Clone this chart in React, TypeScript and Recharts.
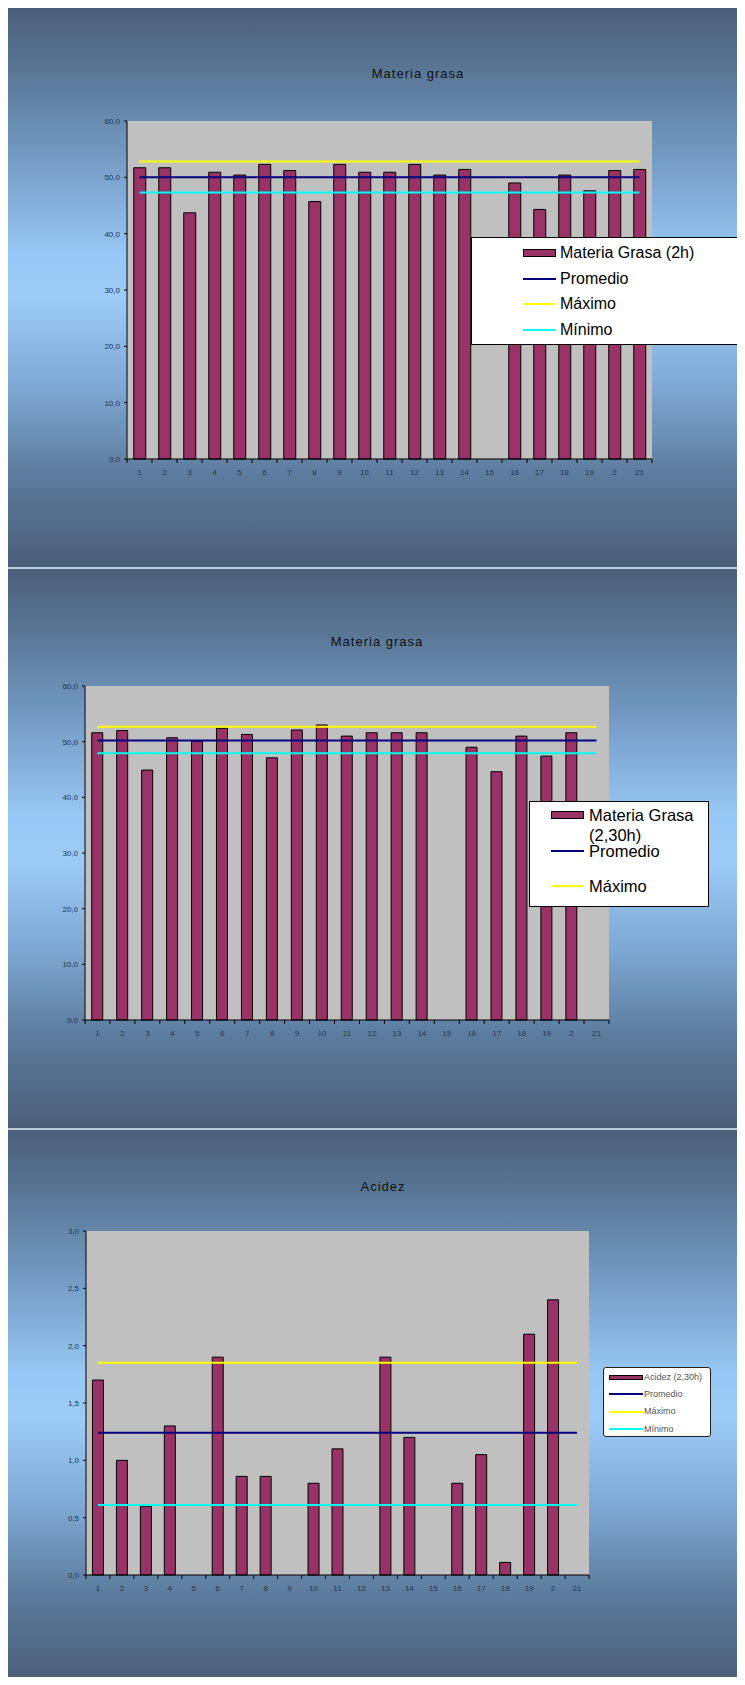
import {
  Bar,
  CartesianGrid,
  ComposedChart,
  Legend,
  Line,
  XAxis,
  YAxis,
} from "recharts";

// Days of the month as printed on the axis (day 20 shows as "2").
const days = [
  "1", "2", "3", "4", "5", "6", "7", "8", "9", "10", "11",
  "12", "13", "14", "15", "16", "17", "18", "19", "2", "21",
];

const grasa2h = [
  51.7, 51.7, 43.7, 50.9, 50.4, 52.3, 51.2, 45.7, 52.3, 50.9, 50.9,
  52.3, 50.4, 51.4, null, 49.0, 44.3, 50.4, 47.6, 51.2, 51.4,
];
const grasa2hLimits = { promedio: 50.0, maximo: 52.8, minimo: 47.3 };

const grasa230h = [
  51.6, 52.0, 44.9, 50.7, 50.1, 52.4, 51.3, 47.1, 52.1, 53.0, 51.0,
  51.6, 51.6, 51.6, null, 49.0, 44.6, 51.0, 47.4, 51.6, null,
];
const grasa230hLimits = { promedio: 50.2, maximo: 52.7, minimo: 47.9 };

const acidez230h = [
  1.7, 1.0, 0.6, 1.3, null, 1.9, 0.86, 0.86, null, 0.8, 1.1,
  null, 1.9, 1.2, null, 0.8, 1.05, 0.11, 2.1, 2.4, null,
];
const acidezLimits = { promedio: 1.24, maximo: 1.85, minimo: 0.61 };

const grasaTicks = [0, 10, 20, 30, 40, 50, 60];
const acidezTicks = [0, 0.5, 1, 1.5, 2, 2.5, 3];

// Legend entries after the bar series, in plotting order.
const limitNames = ["Promedio", "Máximo", "Mínimo"];

const FONT = "'Liberation Sans', Arial, sans-serif";
const CHART_W = 738;
const Y_W = 40;
const BAR = "#993366";
const TICK_INK = "#22344a";

type Limits = { promedio: number; maximo: number; minimo: number };

function buildRows(values: (number | null)[], lim: Limits) {
  return days.map((day, i) => ({
    day,
    value: values[i],
    promedio: lim.promedio,
    maximo: lim.maximo,
    minimo: lim.minimo,
  }));
}

const fmt = (v: number) => v.toFixed(1).replace(".", ",");

// Category ticks: label centred on the bar, tick mark on the band edge.
function DayTick(props: any) {
  const { x, y, payload, index, band } = props;
  const left = x - band / 2;
  return (
    <g>
      <line x1={left} y1={y} x2={left} y2={y + 4} stroke="#000" />
      {index === days.length - 1 && (
        <line x1={x + band / 2} y1={y} x2={x + band / 2} y2={y + 4} stroke="#000" />
      )}
      <text
        x={x}
        y={y + 16}
        textAnchor="middle"
        fontSize={8}
        fontFamily={FONT}
        fill={TICK_INK}
      >
        {payload.value}
      </text>
    </g>
  );
}

interface LegendCfg {
  left: number;
  top: number;
  width: number;
  height: number;
  first: number;
  step: number;
  swatchX: number;
  swatchW: number;
  swatchH: number;
  textX: number;
  textW: number;
  fontSize: number;
  lineHeight: number;
  color: string;
  border: string;
  radius: number;
}

function LegendBox({ payload, cfg }: { payload?: any[]; cfg: LegendCfg }) {
  // bar first, then the limit lines in the order they were added
  const items = [...(payload ?? [])].sort((a, b) => {
    const ra = a.type === "line" ? limitNames.indexOf(a.value) + 1 : 0;
    const rb = b.type === "line" ? limitNames.indexOf(b.value) + 1 : 0;
    return ra - rb;
  });
  return (
    <div
      style={{
        position: "relative",
        width: cfg.width,
        height: cfg.height,
        background: "#fff",
        border: cfg.border,
        borderRadius: cfg.radius,
        boxSizing: "border-box",
        overflow: "hidden",
        fontFamily: FONT,
      }}
    >
      {items.map((item: any, i: number) => {
        const cy = cfg.first + i * cfg.step;
        if (cy - cfg.lineHeight / 2 > cfg.height) return null;
        const isBar = item.type !== "line";
        return (
          <div key={item.value} style={{ position: "absolute", left: 0, top: 0 }}>
            {isBar ? (
              <div
                style={{
                  position: "absolute",
                  left: cfg.swatchX,
                  top: cy - cfg.swatchH / 2,
                  width: cfg.swatchW,
                  height: cfg.swatchH,
                  background: BAR,
                  border: "1px solid #000",
                  boxSizing: "border-box",
                }}
              />
            ) : (
              <div
                style={{
                  position: "absolute",
                  left: cfg.swatchX,
                  top: cy - 1,
                  width: cfg.swatchW,
                  height: 2,
                  background: item.color,
                }}
              />
            )}
            <div
              style={{
                position: "absolute",
                left: cfg.textX,
                top: cy - cfg.lineHeight / 2,
                width: cfg.textW,
                fontSize: cfg.fontSize,
                lineHeight: `${cfg.lineHeight}px`,
                color: cfg.color,
                whiteSpace: "normal",
              }}
            >
              {item.value}
            </div>
          </div>
        );
      })}
    </div>
  );
}

interface PanelProps {
  height: number;
  title: string;
  titleX: number;
  titleY: number;
  rows: ReturnType<typeof buildRows>;
  seriesName: string;
  domain: [number, number];
  ticks: number[];
  margin: { top: number; right: number; bottom: number; left: number };
  legend: LegendCfg;
}

function Panel(p: PanelProps) {
  const plotW = CHART_W - p.margin.left - p.margin.right - Y_W;
  const band = plotW / days.length;
  return (
    <div
      style={{
        position: "relative",
        width: 739,
        height: p.height,
        boxSizing: "border-box",
        borderTop: "2px solid #bccbdb",
        borderLeft: "1px solid #a8bbcf",
        overflow: "hidden",
        background:
          "linear-gradient(to bottom, #4b5f79 0%, #577391 10%, #7399c2 26%, #97c7f4 44%, #9ccbf7 52%, #7ea8d3 68%, #5c7a9b 84%, #4a5e78 100%)",
      }}
    >
      <div
        style={{
          position: "absolute",
          left: p.titleX,
          top: p.titleY,
          transform: "translate(-50%, -50%)",
          fontFamily: FONT,
          fontSize: 13,
          letterSpacing: 1,
          color: "#111",
          whiteSpace: "nowrap",
          zIndex: 1,
        }}
      >
        {p.title}
      </div>
      <ComposedChart
        width={CHART_W}
        height={p.height - 2}
        data={p.rows}
        margin={p.margin}
        barCategoryGap="27%"
      >
        <CartesianGrid horizontal={false} vertical={false} fill="#c0c0c0" />
        <XAxis
          dataKey="day"
          interval={0}
          height={30}
          tickSize={0}
          tickMargin={0}
          tickLine={false}
          axisLine={{ stroke: "#000" }}
          tick={<DayTick band={band} />}
        />
        <XAxis
          xAxisId="frame"
          dataKey="day"
          orientation="top"
          height={0}
          tick={false}
          tickLine={false}
          axisLine={{ stroke: "#8c8c8c" }}
        />
        <YAxis
          domain={p.domain}
          ticks={p.ticks}
          width={Y_W}
          tickFormatter={fmt}
          tickSize={3}
          tickMargin={4}
          axisLine={{ stroke: "#000" }}
          tickLine={{ stroke: "#000" }}
          tick={{ fontSize: 8, fontFamily: FONT, fill: TICK_INK }}
        />
        <YAxis
          yAxisId="frame"
          orientation="right"
          width={0}
          tick={false}
          tickLine={false}
          axisLine={{ stroke: "#8c8c8c" }}
        />
        <Legend
          layout="vertical"
          align="center"
          verticalAlign="middle"
          wrapperStyle={{
            left: p.legend.left,
            top: p.legend.top,
            width: p.legend.width,
            height: p.legend.height,
          }}
          content={(props: any) => <LegendBox payload={props.payload} cfg={p.legend} />}
        />
        <Bar
          dataKey="value"
          name={p.seriesName}
          fill={BAR}
          stroke="#000"
          strokeWidth={1}
          isAnimationActive={false}
        />
        <Line
          dataKey="promedio"
          name="Promedio"
          stroke="#000080"
          strokeWidth={2}
          dot={false}
          type="linear"
          isAnimationActive={false}
        />
        <Line
          dataKey="maximo"
          name="Máximo"
          stroke="#ffff00"
          strokeWidth={2}
          dot={false}
          type="linear"
          isAnimationActive={false}
        />
        <Line
          dataKey="minimo"
          name="Mínimo"
          stroke="#00ffff"
          strokeWidth={2}
          dot={false}
          type="linear"
          isAnimationActive={false}
        />
      </ComposedChart>
    </div>
  );
}

const bigLegend = {
  swatchW: 33,
  swatchH: 8,
  fontSize: 16,
  lineHeight: 20,
  color: "#000",
  border: "1px solid #000",
  radius: 0,
};

export default function App() {
  return (
    <div style={{ margin: "-2px 0 -8px -2px", width: 739 }}>
      <Panel
        height={561}
        title="Materia grasa"
        titleX={411}
        titleY={65}
        rows={buildRows(grasa2h, grasa2hLimits)}
        seriesName="Materia Grasa (2h)"
        domain={[0, 60]}
        ticks={grasaTicks}
        margin={{ top: 113, right: 93, bottom: 78, left: 80 }}
        legend={{
          ...bigLegend,
          left: 464,
          top: 229,
          width: 300,
          height: 108,
          first: 15,
          step: 25.7,
          swatchX: 51,
          textX: 88,
          textW: 200,
        }}
      />
      <Panel
        height={561}
        title="Materia grasa"
        titleX={370}
        titleY={72}
        rows={buildRows(grasa230h, grasa230hLimits)}
        seriesName="Materia Grasa (2,30h)"
        domain={[0, 60]}
        ticks={grasaTicks}
        margin={{ top: 117, right: 136, bottom: 78, left: 38 }}
        legend={{
          ...bigLegend,
          fontSize: 16.5,
          left: 522,
          top: 232,
          width: 180,
          height: 106,
          first: 13,
          step: 35.5,
          swatchX: 21,
          textX: 59,
          textW: 117,
        }}
      />
      <Panel
        height={557}
        title="Acidez"
        titleX={376}
        titleY={56}
        rows={buildRows(acidez230h, acidezLimits)}
        seriesName="Acidez (2,30h)"
        domain={[0, 3]}
        ticks={acidezTicks}
        margin={{ top: 101, right: 156, bottom: 80, left: 39 }}
        legend={{
          left: 596,
          top: 237,
          width: 108,
          height: 70,
          first: 9,
          step: 17.4,
          swatchX: 5,
          swatchW: 34,
          swatchH: 5,
          textX: 40,
          textW: 66,
          fontSize: 9,
          lineHeight: 11,
          color: "#555",
          border: "1.5px solid #222",
          radius: 3,
        }}
      />
    </div>
  );
}
